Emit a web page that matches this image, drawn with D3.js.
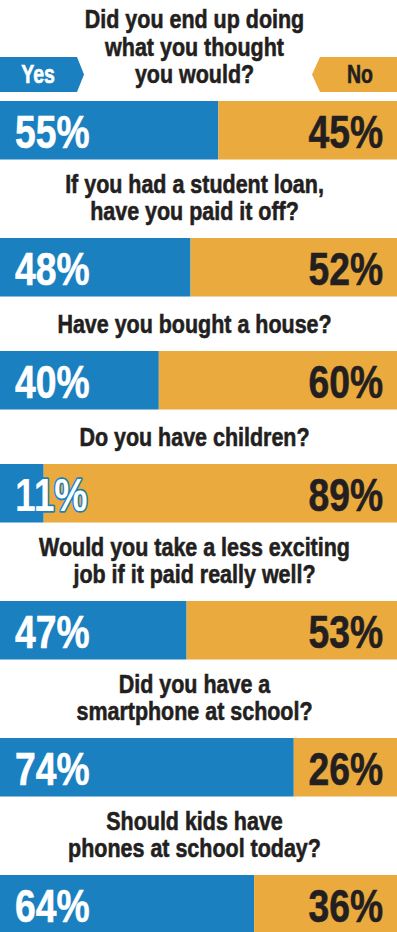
<!DOCTYPE html>
<html>
<head>
<meta charset="utf-8">
<script src="https://cdn.jsdelivr.net/npm/d3@7"></script>
<style>
  body { margin: 0; background: #fff; }
  svg { display: block; }
  text { font-family: "Liberation Sans", Arial, sans-serif; font-weight: bold; }
</style>
</head>
<body>
<svg id="chart"></svg>
<script>
const width = 397;
const height = 932;

// survey data
const questions = [
  ["Did you end up doing", "what you thought", "you would?"],
  ["If you had a student loan,", "have you paid it off?"],
  ["Have you bought a house?"],
  ["Do you have children?"],
  ["Would you take a less exciting", "job if it paid really well?"],
  ["Did you have a", "smartphone at school?"],
  ["Should kids have", "phones at school today?"]
];
const yesPct = [55, 48, 40, 11, 47, 74, 64];
const noPct = [45, 52, 60, 89, 53, 26, 36];
const answerLabels = ["Yes", "No"];

const blue = "#1b80bf";
const orange = "#eaaa3e";
const dark = "#231f20";

// no condensed font installed, so squeeze Liberation Sans horizontally
const squeeze = 0.81;

const svg = d3.select("#chart")
  .attr("width", width)
  .attr("height", height);

const x = d3.scaleLinear().domain([0, 100]).range([0, width]);

const barH = 58.5;
const lineH = 27.5;
const firstTop = 101;
const centerX = 194.5;

// bar tops: each block gets space for its question lines
let tops = [];
let cur = firstTop;
questions.forEach((q, i) => {
  if (i > 0) cur += (q.length === 1 ? 54.5 : 78.5);
  tops.push(cur);
  cur += barH;
});

const rows = questions.map((q, i) => ({
  lines: q, yes: yesPct[i], no: noPct[i], top: tops[i]
}));

function label(sel, tx, ty, anchor, size, fill, str, sx = squeeze) {
  return sel.append("text")
    .attr("transform", `translate(${tx},${ty}) scale(${sx},1)`)
    .attr("text-anchor", anchor)
    .attr("font-size", size + "px")
    .attr("fill", fill)
    .attr("stroke", fill)
    .attr("stroke-width", 0.6)
    .text(str);
}

const g = svg.selectAll("g.row")
  .data(rows)
  .join("g")
  .attr("class", "row");

// yes / no bars
g.append("rect")
  .attr("x", x(0))
  .attr("y", d => d.top)
  .attr("width", d => x(d.yes))
  .attr("height", barH)
  .attr("fill", blue);

g.append("rect")
  .attr("x", d => x(d.yes))
  .attr("y", d => d.top)
  .attr("width", d => x(100) - x(d.yes))
  .attr("height", barH)
  .attr("fill", orange);

g.each(function(d) {
  const el = d3.select(this);
  const n = d.lines.length;
  // question text, last line sits 18px above the bar
  d.lines.forEach((line, j) => {
    label(el, centerX, d.top - 18 - (n - 1 - j) * lineH, "middle", 26.5, dark, line);
  });

  // percent labels
  const yl = label(el, 15, d.top + 47, "start", 46, "#fff", d.yes + "%")
    .attr("paint-order", "stroke")
    .attr("stroke-linejoin", "round");
  // label spills past the blue bar: outline it
  if (15 + yl.node().getComputedTextLength() * squeeze > x(d.yes)) {
    yl.attr("stroke", blue).attr("stroke-width", 3.5);
  }
  label(el, width - 14, d.top + 47, "end", 46, dark, d.no + "%");
});

// Yes / No tags in the header
const tagTop = 57, tagH = 35;
const tags = svg.append("g");
tags.append("path")
  .attr("d", `M0,${tagTop}H77L84,${tagTop + tagH / 2}L77,${tagTop + tagH}H0Z`)
  .attr("fill", blue);
tags.append("path")
  .attr("d", `M${width},${tagTop}H320L312,${tagTop + tagH / 2}L320,${tagTop + tagH}H${width}Z`)
  .attr("fill", orange);
label(tags, 38, tagTop + 26, "middle", 25, "#fff", answerLabels[0], 0.78);
label(tags, 360, tagTop + 26, "middle", 25, dark, answerLabels[1], 0.78);
</script>
</body>
</html>
